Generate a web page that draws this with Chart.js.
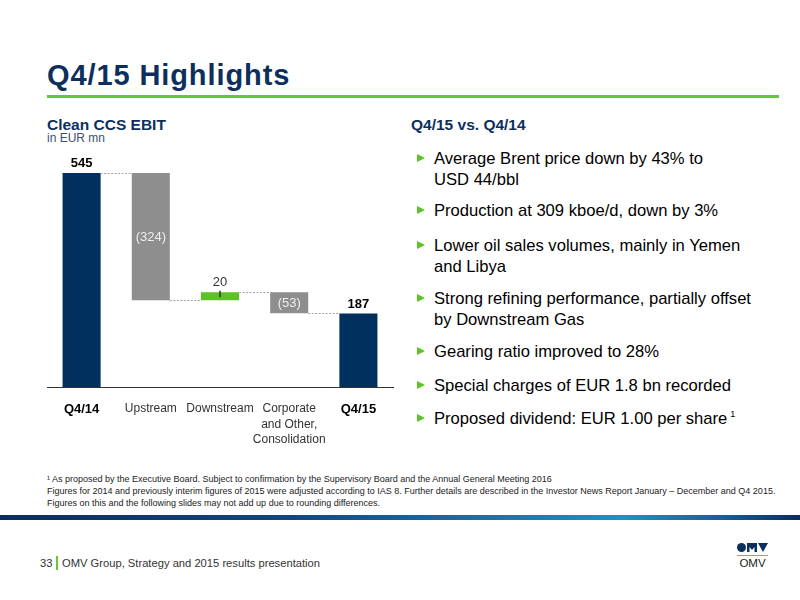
<!DOCTYPE html>
<html>
<head>
<meta charset="utf-8">
<script src="https://cdn.jsdelivr.net/npm/chart.js@4/dist/chart.umd.min.js"></script>
<style>
  html, body { margin: 0; padding: 0; background: #fff; }
  body { width: 800px; height: 600px; position: relative; overflow: hidden;
         font-family: "Liberation Sans", Arial, Helvetica, sans-serif; color: #000; }
  .abs { position: absolute; white-space: nowrap; }
  #title { left: 47px; top: 61px; font-size: 29px; line-height: 29px; font-weight: bold; color: #0c2f5e; letter-spacing: 0.9px; }
  #rule { left: 47px; top: 95px; width: 732px; height: 3px; background: #68c630; }
  .h2 { font-size: 15.5px; line-height: 16px; font-weight: bold; color: #0c2f5e; top: 117px; }
  #unit { left: 47px; top: 132px; font-size: 12px; line-height: 12px; color: #3d4e6e; }
  .bul { left: 434px; font-size: 16.6px; line-height: 21px; color: #000; }
  .bul::before { content: ""; position: absolute; left: -17px; top: 5.5px;
                 border-left: 8px solid #5cc226; border-top: 4.5px solid transparent; border-bottom: 4.5px solid transparent; }
  .bul sup { font-size: 9px; vertical-align: 0; position: relative; top: -7px; margin-left: 3px; }
  #notes { left: 47px; top: 473px; font-size: 9px; line-height: 12px; color: #222; }
  #band { left: 0; top: 515px; width: 800px; height: 5px;
          background: linear-gradient(to right, #0b2d5c 0%, #11457e 35%, #1670b0 60%, #1c90d0 78%, #14609e 90%, #0b2d5c 100%); }
  #footer { left: 40px; top: 556px; font-size: 11.2px; line-height: 14px; color: #333; }
  #footer .sep { display: inline-block; width: 1.5px; height: 14px; background: #68c630; vertical-align: top; margin: 0 4px 0 4px; }
  #chartBox { position: absolute; left: 40px; top: 140px; width: 360px; height: 310px; }
</style>
</head>
<body>
<div id="title" class="abs">Q4/15 Highlights</div>
<div id="rule" class="abs"></div>
<div class="abs h2" style="left:47px;">Clean CCS EBIT</div>
<div id="unit" class="abs">in EUR mn</div>
<div class="abs h2" style="left:411px;">Q4/15 vs. Q4/14</div>

<div class="abs bul" style="top:148px;">Average Brent price down by 43% to<br>USD 44/bbl</div>
<div class="abs bul" style="top:200px;">Production at 309 kboe/d, down by 3%</div>
<div class="abs bul" style="top:235px;">Lower oil sales volumes, mainly in Yemen<br>and Libya</div>
<div class="abs bul" style="top:288px;">Strong refining performance, partially offset<br>by Downstream Gas</div>
<div class="abs bul" style="top:341px;">Gearing ratio improved to 28%</div>
<div class="abs bul" style="top:375px;">Special charges of EUR 1.8 bn recorded</div>
<div class="abs bul" style="top:408px;">Proposed dividend: EUR 1.00 per share<sup>1</sup></div>

<div id="chartBox"><canvas id="c" width="360" height="310"></canvas></div>

<div id="notes" class="abs">¹ As proposed by the Executive Board. Subject to confirmation by the Supervisory Board and the Annual General Meeting 2016<br>Figures for 2014 and previously interim figures of 2015 were adjusted according to IAS 8. Further details are described in the Investor News Report January – December and Q4 2015.<br>Figures on this and the following slides may not add up due to rounding differences.</div>
<div id="band" class="abs"></div>
<div id="footer" class="abs">33<span class="sep"></span>OMV Group, Strategy and 2015 results presentation</div>

<svg class="abs" style="left:735px; top:541px;" width="36" height="28" viewBox="0 0 36 28">
  <circle cx="6.5" cy="6.5" r="4.5" fill="#0c2f5e"/>
  <path d="M12 2 L22 2 L22 11 L19.5 11 L19.5 6 L17 9 L14.5 6 L14.5 11 L12 11 Z" fill="#0c2f5e"/>
  <path d="M23 2 L33 2 L28 11 Z" fill="#0c2f5e"/>
  <rect x="2" y="14" width="31" height="1" fill="#68c630"/>
  <text x="17.5" y="26" text-anchor="middle" font-family="Liberation Sans, Arial" font-size="11.5" fill="#222">OMV</text>
</svg>

<script>
// ---- data ----
const categories = [['Q4/14'], ['Upstream'], ['Downstream'], ['Corporate', 'and Other,', 'Consolidation'], ['Q4/15']];
const values = [545, -324, 20, -53, 187];
const barTypes = ['total', 'delta', 'delta', 'delta', 'total'];
const valueLabels = ['545', '(324)', '20', '(53)', '187'];
const yAxisMin = 0;
const yAxisMax = 600;

// ---- build floating ranges from the data ----
let running = 0;
const levels = [];
const ranges = values.map((v, i) => {
  if (barTypes[i] === 'total') {
    running = v;
    levels.push(running);
    return [0, v];
  }
  const start = running;
  running += v;
  levels.push(running);
  return [Math.min(start, running), Math.max(start, running)];
});

const NAVY = '#00305e', GREY = '#8e8e8e', GREEN = '#5cc226';
const colors = values.map((v, i) => barTypes[i] === 'total' ? NAVY : (v < 0 ? GREY : GREEN));

const waterfallDecor = {
  id: 'waterfallDecor',
  afterDatasetsDraw(chart) {
    const { ctx, scales: { y } } = chart;
    const meta = chart.getDatasetMeta(0);
    ctx.save();
    // connectors
    ctx.strokeStyle = '#a3a3a3';
    ctx.lineWidth = 1;
    ctx.setLineDash([2, 1.5]);
    for (let i = 0; i < meta.data.length - 1; i++) {
      const a = meta.data[i], b = meta.data[i + 1];
      const py = Math.round(y.getPixelForValue(levels[i])) + 0.5;
      ctx.beginPath();
      ctx.moveTo(a.x + a.width / 2, py);
      ctx.lineTo(b.x - b.width / 2, py);
      ctx.stroke();
    }
    ctx.setLineDash([]);
    // labels
    ctx.textAlign = 'center';
    meta.data.forEach((el, i) => {
      const top = y.getPixelForValue(ranges[i][1]);
      const bot = y.getPixelForValue(ranges[i][0]);
      if (barTypes[i] === 'total') {
        ctx.font = 'bold 13px "Liberation Sans", Arial';
        ctx.fillStyle = '#000';
        ctx.textBaseline = 'bottom';
        ctx.fillText(valueLabels[i], el.x, top - 3);
      } else if (values[i] >= 0) {
        // small tick mark on the positive bar
        ctx.strokeStyle = '#333';
        ctx.lineWidth = 1.5;
        ctx.beginPath();
        ctx.moveTo(el.x, top - 1.5);
        ctx.lineTo(el.x, top + 5);
        ctx.stroke();
        ctx.font = '13px "Liberation Sans", Arial';
        ctx.fillStyle = '#333';
        ctx.textBaseline = 'bottom';
        ctx.fillText(valueLabels[i], el.x, top - 3);
      } else {
        ctx.font = '13px "Liberation Sans", Arial';
        ctx.fillStyle = '#eeeeee';
        ctx.textBaseline = 'middle';
        ctx.fillText(valueLabels[i], el.x, (top + bot) / 2 + 1);
      }
    });
    ctx.restore();
  }
};

new Chart(document.getElementById('c'), {
  type: 'bar',
  data: {
    labels: categories,
    datasets: [{
      data: ranges,
      backgroundColor: colors,
      borderWidth: 0,
      barPercentage: 0.55,
      categoryPercentage: 1.0
    }]
  },
  options: {
    responsive: false,
    animation: false,
    layout: { padding: { left: 7, right: 7, top: 11.4, bottom: 0 } },
    plugins: { legend: { display: false }, tooltip: { enabled: false }, title: { display: false } },
    scales: {
      x: {
        grid: { display: false, drawTicks: false },
        border: { display: true, color: '#333', width: 1 },
        afterFit(scale) { scale.height = 63; },
        ticks: {
          padding: 14,
          maxRotation: 0,
          autoSkip: false,
          color: (c) => (c.index === 0 || c.index === 4) ? '#000' : '#333',
          font: (c) => (c.index === 0 || c.index === 4)
            ? { family: '"Liberation Sans", Arial', size: 13, weight: 'bold', lineHeight: 1.3 }
            : { family: '"Liberation Sans", Arial', size: 12, weight: 'normal', lineHeight: 1.3 }
        }
      },
      y: {
        display: false,
        min: yAxisMin,
        max: yAxisMax
      }
    }
  },
  plugins: [waterfallDecor]
});
</script>
</body>
</html>
